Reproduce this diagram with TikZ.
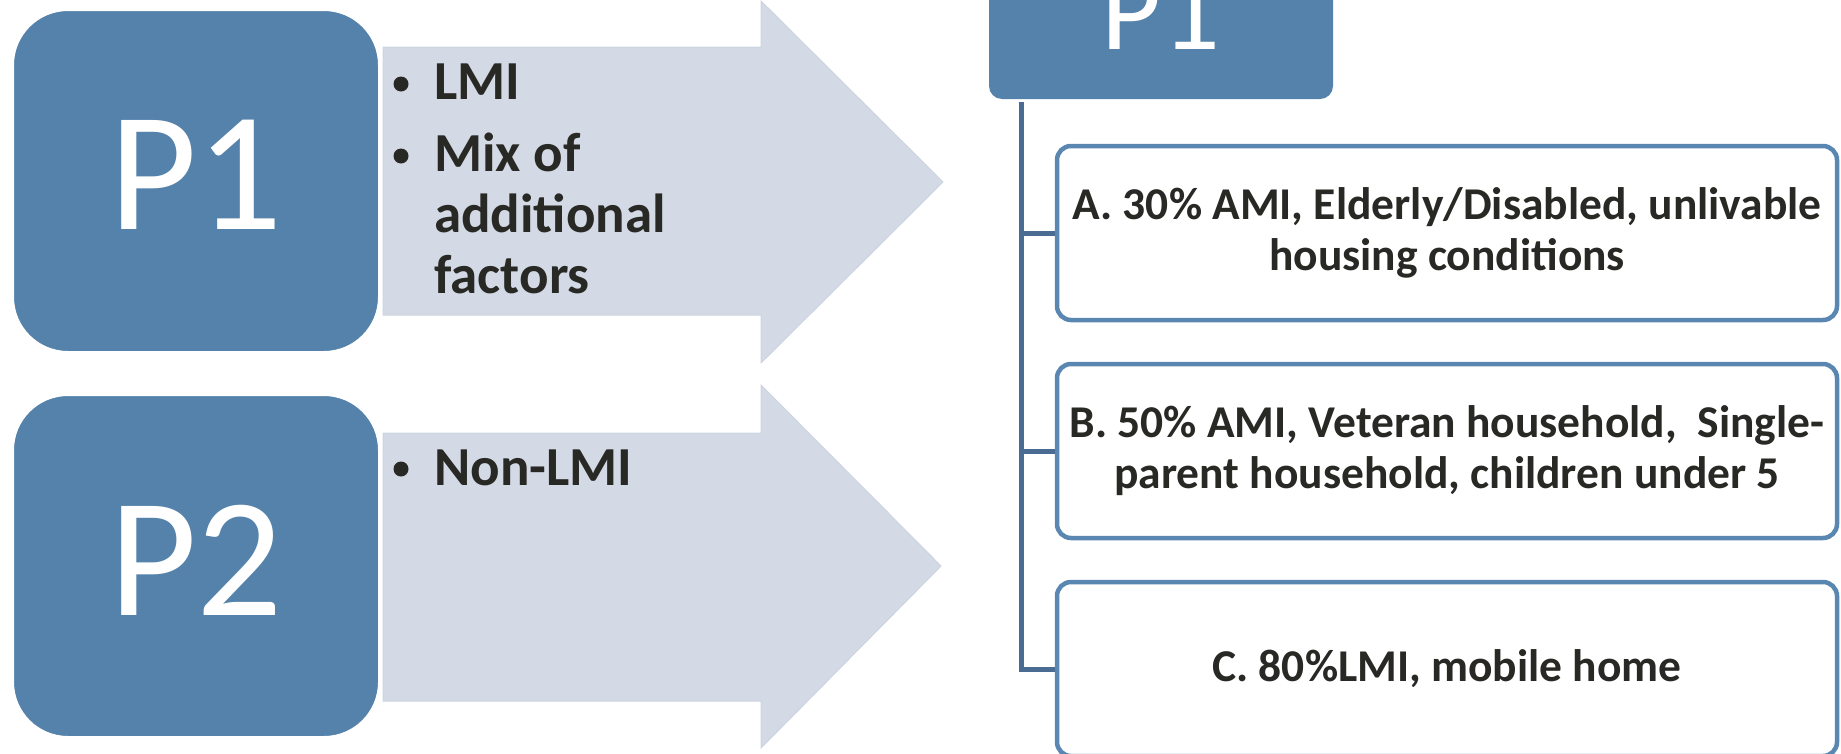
\documentclass[tikz,border=0pt]{standalone}
\usepackage{fontspec}
\setmainfont{Carlito}
\definecolor{pblue}{HTML}{5482AB}
\definecolor{arrowfill}{HTML}{D3DAE5}
\definecolor{arrowedge}{HTML}{CCD4E0}
\definecolor{boxline}{HTML}{5A87B2}
\definecolor{conn}{HTML}{4A6C93}
\definecolor{txt}{HTML}{282824}
\tikzset{
  pbox/.style={fill=pblue, draw=white, line width=2pt, rounded corners=55pt,
    minimum width=366pt, minimum height=342pt, inner sep=0pt, text=white,
    text depth=12pt, font=\fontsize{170}{200}\selectfont},
  topbox/.style={fill=pblue, rounded corners=13pt, minimum width=344pt,
    minimum height=174pt, inner sep=0pt, text=white,
    font=\fontsize{116}{140}\selectfont},
  bigarrow/.style={fill=arrowfill, draw=arrowedge, line width=1pt, line join=miter},
  itemtext/.style={text=txt, font=\bfseries\fontsize{55}{61}\selectfont,
    inner sep=0pt, anchor=base west},
  bulletdot/.style={circle, fill=txt, minimum size=15pt, inner sep=0pt},
  critbox/.style={draw=boxline, line width=4.5pt, fill=white, rounded corners=14pt,
    minimum width=780pt, minimum height=174pt, align=center, text=txt,
    inner sep=0pt, font=\bfseries\fontsize{45.5}{51}\selectfont},
  connline/.style={draw=conn, line width=5pt, line join=miter}
}
\begin{document}
\begin{tikzpicture}[x=1pt,y=-1pt]
\useasboundingbox (0,0) rectangle (1841,753);
\clip (0,0) rectangle (1841,753);
% arrows
\path[bigarrow] (383,47) -- (761,47) -- (761,1) -- (943,182) -- (761,363) -- (761,315) -- (383,315) -- cycle;
\path[bigarrow] (383,433) -- (761,433) -- (761,385) -- (941,566) -- (761,748) -- (761,701) -- (383,701) -- cycle;
% P boxes
\node[pbox] (P1) at (196,181) {P1};
\node[pbox] (P2) at (196,566) {P2};
% bullet items
\node[bulletdot] (b1) at (401,84) {};
\node[itemtext] (t1) at (434,99) {LMI};
\node[bulletdot] (b2) at (401,156) {};
\node[itemtext] (t2) at (434,171) {\parbox[t]{300pt}{\raggedright Mix of\\additional\\factors}};
\node[bulletdot] (b3) at (401,469) {};
\node[itemtext] (t3) at (434,485) {Non-LMI};
% right side
\node[topbox] (Ptop) at (1161,12) {P1};
\node[critbox] (A) at (1447,233) {A. 30\% AMI, Elderly/Disabled, unlivable\\housing conditions};
\node[critbox] (B) at (1447,451) {B. 50\% AMI, Veteran household, \ Single-\\parent household, children under 5};
\node[critbox] (C) at (1447,669) {C. 80\%LMI, mobile home};
\coordinate (tr) at (1021,0);
\draw[connline] ([yshift=-3pt]tr |- Ptop.south) -- (tr |- C.west) -- (C.west);
\draw[connline] (tr |- A.west) -- (A.west);
\draw[connline] (tr |- B.west) -- (B.west);
\end{tikzpicture}
\end{document}
